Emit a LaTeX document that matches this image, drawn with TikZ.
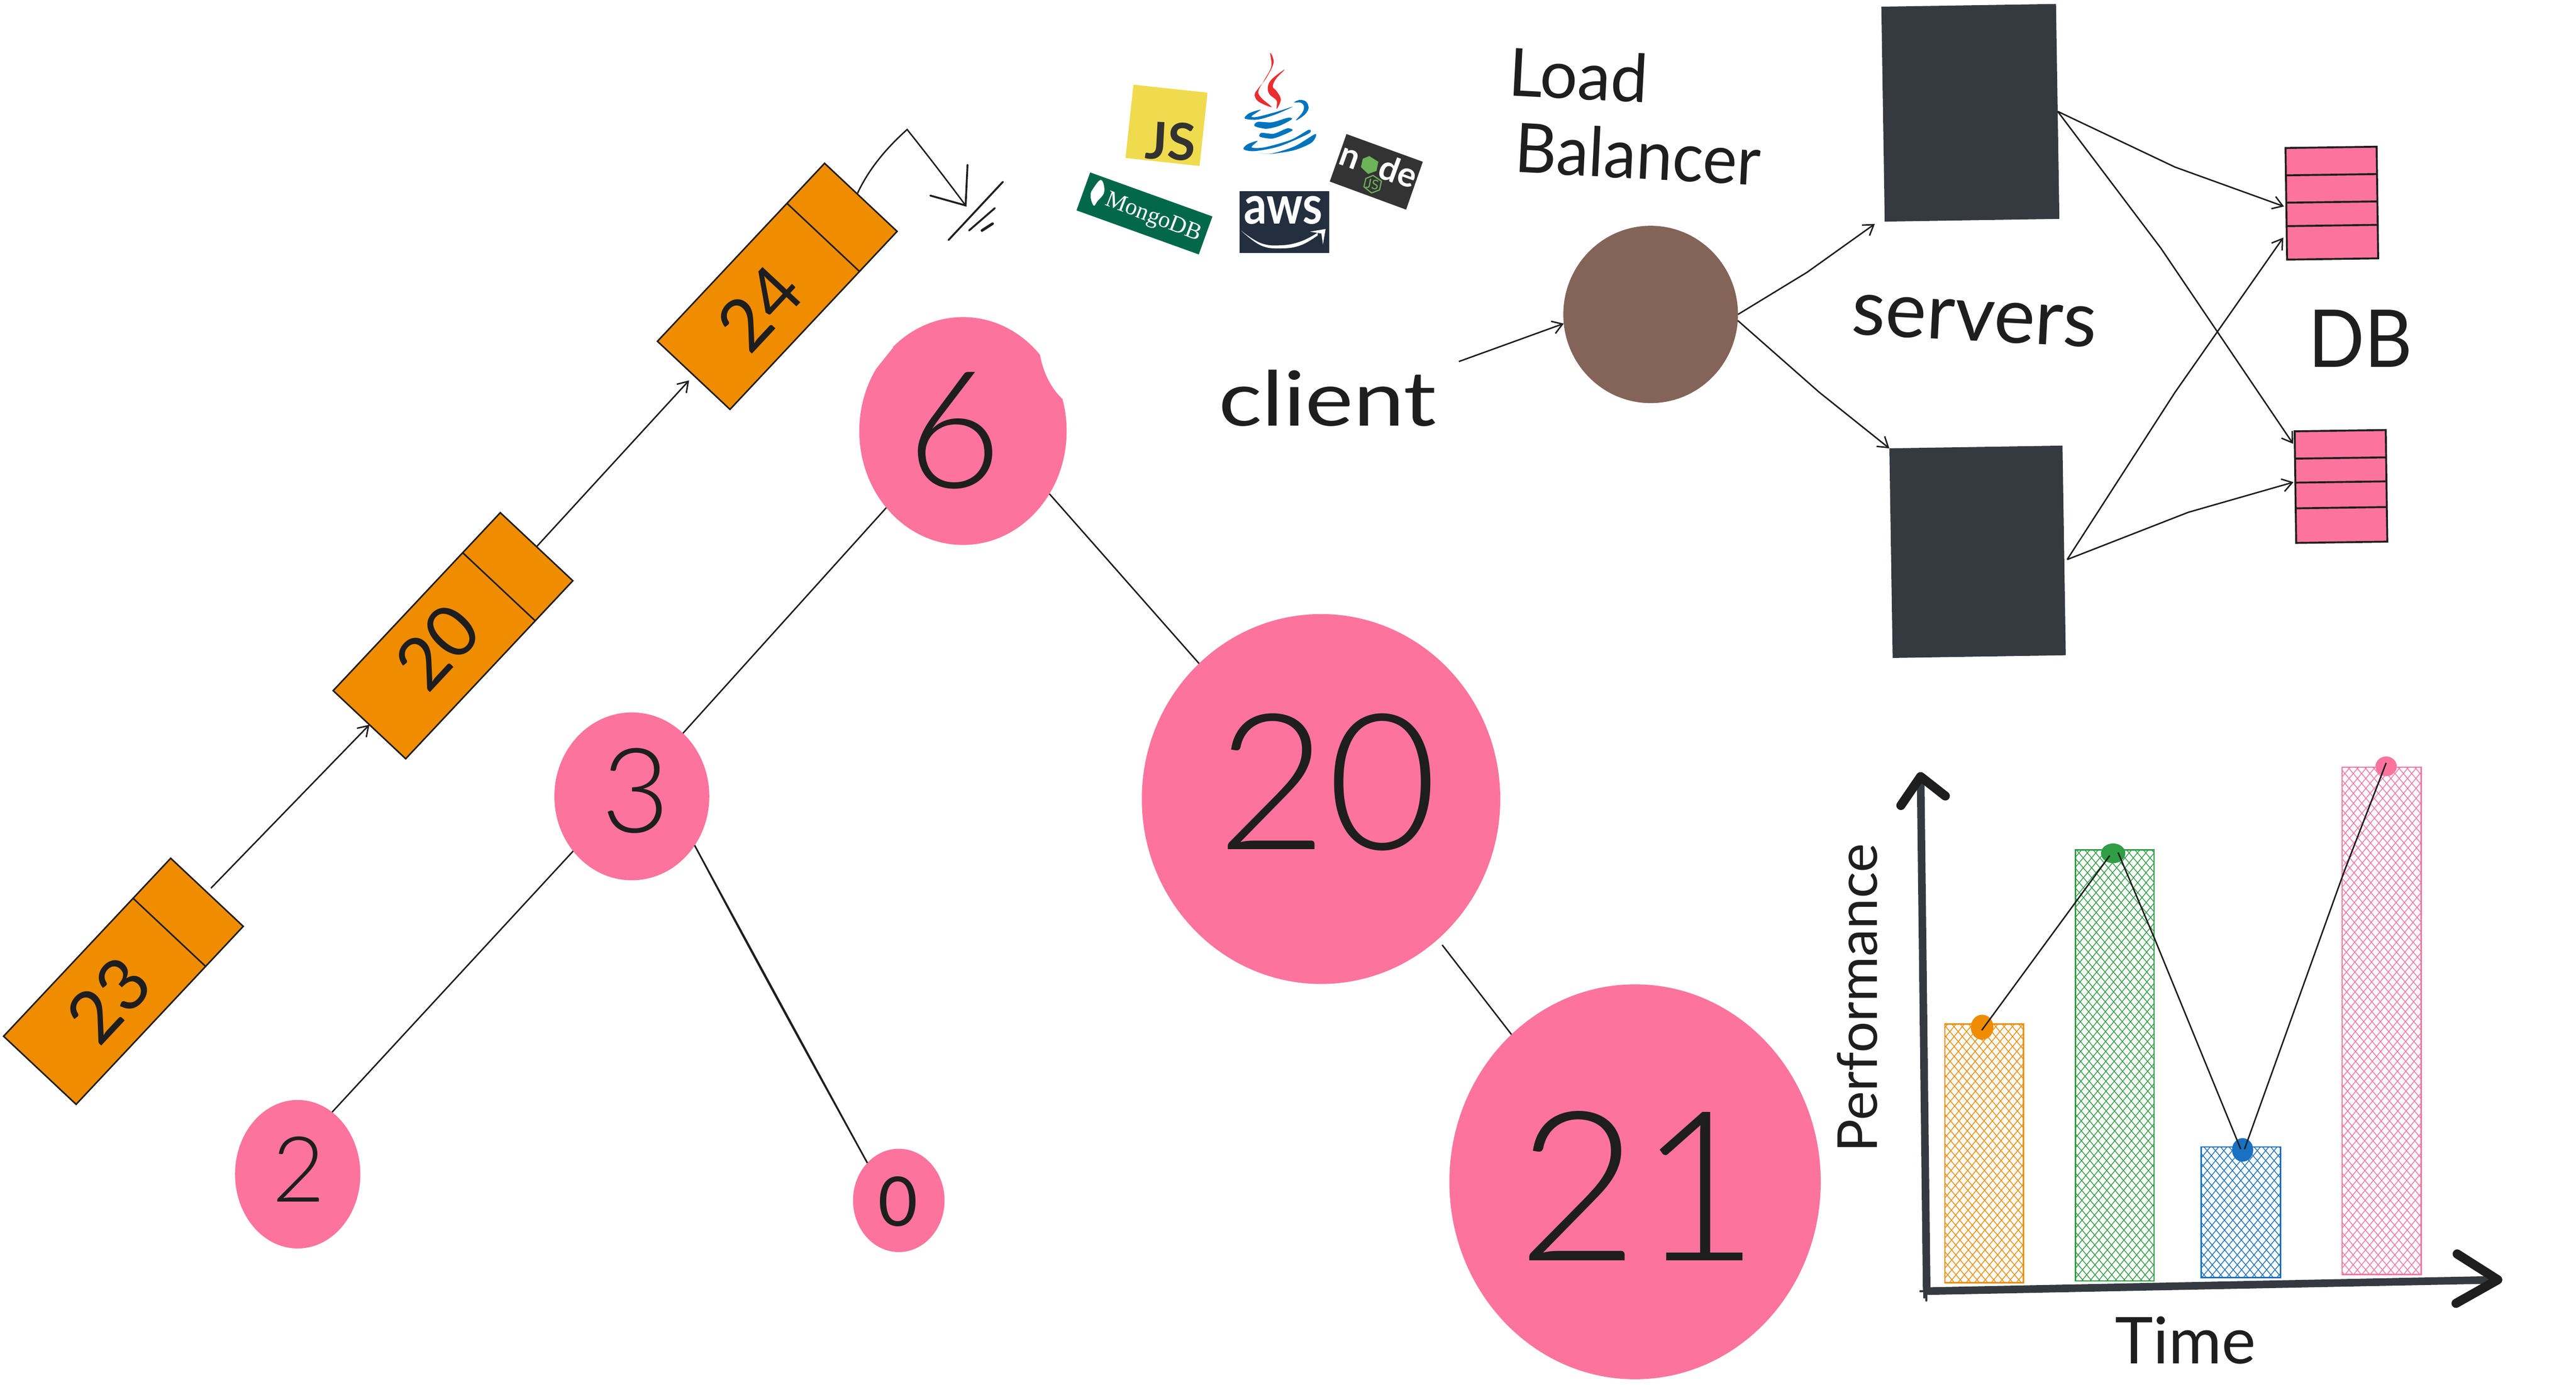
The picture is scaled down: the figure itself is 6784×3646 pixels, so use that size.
\documentclass[tikz,border=0pt]{standalone}
\usepackage{fontspec}
\setmainfont{Lato}
\newfontfamily\serifl{Liberation Serif}
\newfontfamily\lightf{Lato Light}
\usetikzlibrary{shapes.geometric,arrows.meta,calc}
\definecolor{ink}{HTML}{1E1E1E}
\definecolor{slate}{HTML}{343A40}
\definecolor{rosa}{HTML}{FC749E}
\definecolor{amber}{HTML}{F08C00}
\definecolor{leafg}{HTML}{2F9E44}
\definecolor{bluel}{HTML}{1971C2}
\definecolor{brownl}{HTML}{846358}
\definecolor{jsy}{HTML}{F0DB4F}
\definecolor{jsd}{HTML}{323330}
\definecolor{mongo}{HTML}{03684A}
\definecolor{awsd}{HTML}{232F3E}
\definecolor{noded}{HTML}{333333}
\definecolor{nodeg}{HTML}{6CB35A}
\definecolor{javar}{HTML}{EA2D2E}
\definecolor{javab}{HTML}{0074BD}
\newcommand{\sz}[1]{\fontsize{#1}{#1}\selectfont}
\newcommand{\hatchbar}[5]{%
  \begin{scope}
    \clip (#1,#2) rectangle (#3,#4);
    \pgfmathsetmacro\hatA{#1-1300}
    \pgfmathsetmacro\hatB{\hatA+22}
    \pgfmathsetmacro\hatC{#3}
    \foreach \X in {\hatA,\hatB,...,\hatC} {
      \draw[#5,line width=.2pt] (\X,3500) -- ({\X+1250},2000);
      \draw[#5,line width=.2pt] (\X,2000) -- ({\X+1275},3500);
    }
  \end{scope}
  \draw[#5,line width=.35pt] (#1,#2) rectangle (#3,#4);
}
\tikzset{
  hw/.style={text=ink,inner sep=0pt,outer sep=0pt,transform shape},
  blob/.style={ellipse,fill=rosa,inner sep=0pt,outer sep=0pt,text=ink},
  linkbox/.style={rectangle,draw=ink,fill=amber,line width=.4pt,inner sep=0pt,outer sep=0pt,rotate=46.8},
  conn/.style={draw=ink,line width=.38pt},
  arr/.style={conn,-{Straight Barb[length=2.6pt,width=3.4pt]}},
  srv/.style={rectangle,fill=slate,inner sep=0pt,outer sep=0pt,rotate=.9},
  dbbox/.style={rectangle,draw=ink,fill=rosa,line width=.5pt,inner sep=0pt,outer sep=0pt,rotate=.8},
  dbline/.style={draw=ink,line width=.5pt},
  dot/.style={ellipse,inner sep=0pt,outer sep=0pt},
  axisl/.style={draw=slate,line width=2pt},
  axish/.style={draw=ink,line width=2.4pt,line cap=round,line join=round},
}
\begin{document}
\begin{tikzpicture}[x=.1pt,y=-.1pt]
\useasboundingbox (0,0) rectangle (6784,3646);

% ---- linked list
\node[linkbox,minimum width=643pt*.1,minimum height=262pt*.1] (b23) at (325,2584) {};
\node[linkbox,minimum width=643pt*.1,minimum height=262pt*.1] (b20) at (1193,1674) {};
\node[linkbox,minimum width=643pt*.1,minimum height=262pt*.1] (b24) at (2047,754) {};
\foreach \b in {b23,b20,b24}
  \draw[conn,line width=.4pt] ($(\b.north east)!.225!(\b.north west)$) -- ($(\b.south east)!.225!(\b.south west)$);
\node[hw,font=\sz{19},rotate=47] (t23) at (286,2633) {23};
\node[hw,font=\sz{19},rotate=47] (t20) at (1152,1703) {20};
\node[hw,font=\sz{19},rotate=47] (t24) at (2000,811) {24};
\draw[arr,shorten <=1.5pt] (b23.east) -- (b20.west);
\draw[arr,shorten >=1.8pt] (b20.east) -- (b24.west);
\coordinate (hook) at (2389,341);
\coordinate (hookend) at (2543,541);
\draw[conn] ($(b24.north east)!.45!(b24.south east)$) .. controls (2290,440) and (2340,385) .. (hook)
  .. controls (2440,405) and (2490,470) .. (hookend);
\draw[conn,line width=.5pt,line cap=round] (2450,515) -- (hookend) -- (2548,434);
\draw[conn,line width=.5pt,line cap=round] (2498,632) -- (2641,479);
\draw[conn,line width=.5pt,line cap=round] (2552,607) -- (2620,548);
\draw[conn,line width=.7pt,line cap=round] (2586,607) -- (2614,589);

% ---- tree
\node[blob,minimum width=546pt*.1,minimum height=600pt*.1] (n6) at (2536,1135) {};
\fill[white] (2738,930) .. controls (2748,985) and (2770,1025) .. (2800,1052) -- (2830,1000) -- (2780,920) -- cycle;
\fill[white] (2352,915) -- (2296,985) -- (2270,960) -- (2320,900) -- cycle;
\node[hw,font=\lightf\sz{43}] at (2513,1134) {6};
\node[blob,minimum width=408pt*.1,minimum height=442pt*.1] (n3) at (1664,2097) {};
\node[hw,font=\lightf\sz{31}] at (1674,2082) {3};
\node[blob,minimum width=944pt*.1,minimum height=974pt*.1] (n20) at (3479,2104) {};
\node[hw,font=\lightf\sz{50}] at (3496,2060) {20};
\node[blob,minimum width=978pt*.1,minimum height=1040pt*.1] (n21) at (4306,3112) {};
\node[hw,font=\lightf\sz{55}] at (4315,3122) {21};
\node[blob,minimum width=330pt*.1,minimum height=391pt*.1] (n2) at (784,3092) {};
\node[hw,font=\lightf\sz{24}] at (786,3079) {2};
\node[blob,minimum width=241pt*.1,minimum height=272pt*.1] (n0) at (2367,3161) {};
\node[hw,font=\sz{18}] at (2365,3164) {0};
\draw[conn] (n6.225.4) -- (n3.51.4);
\draw[conn] (n6.-36.9) -- (n20.132.4);
\draw[conn] ([shift={(10,16)}]n20.-50.5) -- (n21.130.3);
\draw[conn] (n3.223.5) -- (n2.61.8);
\draw[conn] (n3.-38.8) -- (n0.130.2);
\draw[conn] (n3.-38.8) .. controls (1990,2530) and (2150,2820) .. (n0.130.2);

% ---- logos
\fill[jsy] (2985,223) -- (3180,244) -- (3159,437) -- (2964,416) -- cycle;
\node[hw,text=jsd,font=\bfseries\sz{13.5},rotate=-3] at (3083,372) {JS};
\fill[mongo] (2871,454) -- (3193,570) -- (3157,670) -- (2835,554) -- cycle;
\fill[white] plot[smooth cycle,tension=.7] coordinates {(2900,474) (2908,505) (2890,530) (2880,541) (2872,515) (2880,495)};
\node[hw,text=white,font=\serifl\sz{6.2},rotate=-21] at (3037,574) {MongoDB};
\fill[awsd] (3265,503) rectangle (3501,666);
\node[hw,text=white,font=\bfseries\sz{14},xscale=.85] at (3379,554) {aws};
\fill[white] plot[smooth,tension=.7] coordinates {(3268,607) (3320,640) (3373,646) (3425,636) (3470,613)} -- plot[smooth,tension=.7] coordinates {(3470,620) (3425,646) (3373,654) (3320,646) (3268,607)} -- cycle;
\fill[white] (3450,610) -- (3491,603) -- (3484,644) -- (3480,615) -- cycle;
\fill[noded] (3546,353) -- (3747,426) -- (3703,552) -- (3502,478) -- cycle;
\node[hw,text=white,font=\bfseries\sz{9},rotate=-20] at (3553,418) {n};
\node[hw,text=white,font=\bfseries\sz{9},rotate=-20] at (3660,444) {d};
\node[hw,text=white,font=\bfseries\sz{9},rotate=-20] at (3704,468) {e};
\fill[nodeg] (3606,411) -- (3630,426) -- (3625,450) -- (3603,458) -- (3584,440) -- (3589,418) -- cycle;
\draw[nodeg,line width=.3pt] (3616,462) -- (3638,477) -- (3633,500) -- (3612,508) -- (3592,492) -- (3597,470) -- cycle;
\node[hw,text=nodeg,font=\sz{3.5},rotate=-10] at (3614,485) {JS};
% java
\fill[javar] plot[smooth cycle,tension=.6] coordinates {(3345,139) (3354,165) (3335,205) (3312,235) (3304,250) (3315,268) (3349,282) (3322,258) (3314,240) (3330,210) (3348,175)};
\fill[javar] plot[smooth cycle,tension=.6] coordinates {(3383,183) (3350,208) (3339,228) (3343,248) (3362,265) (3362,287) (3373,262) (3362,240) (3352,228) (3360,208)};
\fill[javab] plot[smooth cycle,tension=.6] coordinates {(3408,270) (3423,263) (3440,268) (3446,285) (3436,302) (3413,317) (3430,296) (3434,280) (3425,270)};
\fill[javab] plot[smooth cycle,tension=.5] coordinates {(3320,289) (3290,298) (3278,312) (3312,315) (3360,301) (3404,281) (3360,295) (3310,308) (3296,306)};
\fill[javab] plot[smooth cycle,tension=.5] coordinates {(3392,310) (3350,322) (3312,321) (3304,332) (3335,339) (3370,331) (3402,314)};
\fill[javab] plot[smooth cycle,tension=.5] coordinates {(3390,338) (3355,352) (3322,350) (3318,360) (3350,365) (3380,355) (3404,343)};
\fill[javab] plot[smooth cycle,tension=.5] coordinates {(3312,371) (3285,380) (3275,393) (3304,398) (3370,385) (3446,352) (3446,342) (3400,368) (3330,388) (3296,388)};
\fill[javab] plot[smooth cycle,tension=.5] coordinates {(3316,403) (3350,404) (3410,385) (3464,353) (3455,375) (3410,395) (3350,405)};

% ---- load balancer
\node[hw,font=\sz{17.5},rotate=-3] (tload) at (4157,197) {Load};
\node[hw,font=\sz{18},xscale=.95,rotate=-3] (tbal) at (4314,405) {Balancer};
\node[hw,font=\sz{20},xscale=1.2] (client) at (3496,1048) {client};
\node[hw,font=\sz{20.5},rotate=-3] (tserv) at (5199,845) {servers};
\node[hw,font=\sz{21},xscale=.93] (tdb) at (6216,891) {DB};
\node[ellipse,fill=brownl,inner sep=0pt,outer sep=0pt,minimum width=460pt*.1,minimum height=467pt*.1] (LB) at (4347,828) {};
\node[srv,minimum width=460pt*.1,minimum height=566pt*.1] (S1) at (5189,297) {};
\node[srv,minimum width=456pt*.1,minimum height=552pt*.1] (S2) at (5208,1453) {};
\node[dbbox,minimum width=240pt*.1,minimum height=294pt*.1] (D1) at (6141,535) {};
\node[dbbox,minimum width=240pt*.1,minimum height=294pt*.1] (D2) at (6165,1281) {};
\foreach \f in {.245,.49,.70}
  \draw[dbline] ($(D1.north west)!\f!(D1.south west)$) -- ($(D1.north east)!\f!(D1.south east)$);
\foreach \f in {.245,.46,.69}
  \draw[dbline] ($(D2.north west)!\f!(D2.south west)$) -- ($(D2.north east)!\f!(D2.south east)$);
\draw[arr] (3842,952) -- (LB.186.3);
\draw[arr] (LB.east) -- (4759,717) -- ([shift={(-26,6)}]S1.south west);
\draw[arr] (LB.-4) -- (4791,1033) -- (S2.north west);
\draw[arr] (S1.east) -- (5728,440) -- ([shift={(-6,7)}]D1.west);
\draw[arr] (S1.east) -- (5691,654) -- ([shift={(-4,33)}]D2.north west);
\draw[arr] ([shift={(8,24)}]S2.east) -- (5728,1033) -- ([shift={(-8,89)}]D1.west);
\draw[arr] ([shift={(8,24)}]S2.east) -- (5763,1349) -- ([shift={(-5,-13)}]D2.west);

% ---- chart
\hatchbar{5122}{2697}{5329}{3378}{amber}
\hatchbar{5466}{2238}{5673}{3373}{leafg}
\hatchbar{5797}{3020}{6006}{3364}{bluel}
\hatchbar{6168}{2020}{6376}{3356}{rosa}
\node[dot,fill=amber,minimum width=60pt*.1,minimum height=66pt*.1] (d1) at (5220,2705) {};
\node[dot,fill=leafg,minimum width=64pt*.1,minimum height=52pt*.1] (d2) at (5565,2247) {};
\node[dot,fill=bluel,minimum width=56pt*.1,minimum height=62pt*.1] (d3) at (5906,3028) {};
\node[dot,fill=rosa,minimum width=56pt*.1,minimum height=52pt*.1] (d4) at (6284,2018) {};
\draw[conn] ([shift={(-1,8)}]d1.center) -- ([shift={(-9,6)}]d2.center);
\draw[conn] ([shift={(13,-2)}]d2.center) -- (5673,2469) -- ([shift={(-5,-2)}]d3.center);
\draw[conn] ([shift={(5,-2)}]d3.center) -- (6173,2296) -- ([shift={(0,-9)}]d4.center);
\coordinate (o1) at (5074,3400);
\coordinate (o2) at (5070,3400);
\coordinate (ytop) at (5058,2045);
\coordinate (xend) at (6578,3370);
\draw[axisl] (o1) -- (ytop);
\draw[axisl] (o2) -- (xend);
\draw[axish] (5006,2121) -- (ytop) -- (5123,2096);
\draw[axish] (6471,3302) -- (xend) -- (6468,3432);
\draw[slate,line width=.5pt,line cap=round] (5057,3400) -- (5080,3400);
\draw[slate,line width=.5pt,line cap=round] (5073,3400) -- (5073,3425);
\draw[slate,line width=.5pt,line cap=round] (5068,3400) -- (5068,3417);
\node[hw,font=\sz{14.5},rotate=90] (tperf) at (4892,2628) {Performance};
\node[hw,font=\sz{17}] (ttime) at (5756,3530) {Time};
\end{tikzpicture}
\end{document}
